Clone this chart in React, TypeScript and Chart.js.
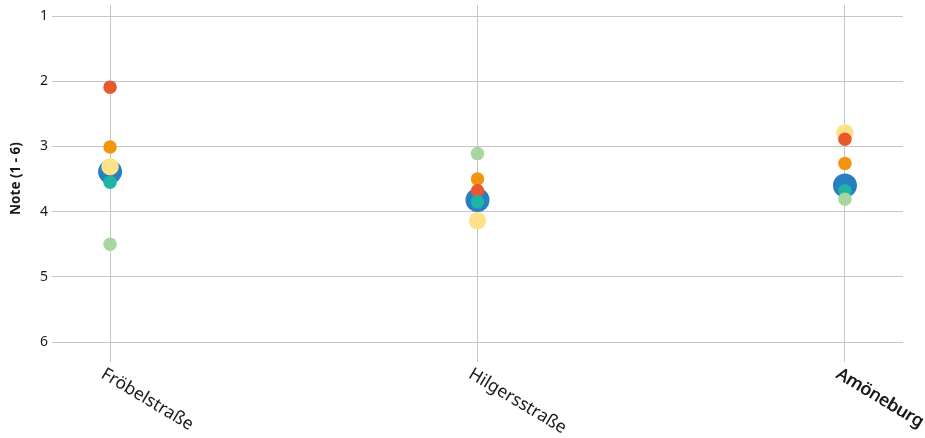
import React, { useEffect, useRef } from "react";
import { Chart, registerables } from "chart.js";

Chart.register(...registerables);

const categories = ["Fröbelstraße", "Hilgersstraße", "Amöneburg"];
const yTickValues = [1, 2, 3, 4, 5, 6];
const yAxisTitle = "Note (1 - 6)";

const seriesNames = ["Reihe 1", "Reihe 2", "Reihe 3", "Reihe 4", "Reihe 5", "Gesamt"];
const greenValues = [4.5, 3.11, 3.81];
const tealValues = [3.55, 3.85, 3.68];
const redValues = [2.09, 3.68, 2.89];
const orangeValues = [3.01, 3.5, 3.26];
const yellowValues = [3.31, 4.14, 2.79];
const blueValues = [3.39, 3.82, 3.6];

const seriesValues = [greenValues, tealValues, redValues, orangeValues, yellowValues, blueValues];
const seriesColors = ["#A8D5A0", "#1DB5A6", "#E8582C", "#F3940F", "#FEE28A", "#297EC2"];
const seriesRadii = [6.75, 6.75, 6.75, 6.75, 8.75, 12];

const FONT = '"Noto Sans", "Open Sans", sans-serif';

const labelPlugin = {
  id: "rotatedLabels",
  afterDraw(chart: any) {
    const ctx = chart.ctx as CanvasRenderingContext2D;
    const xs = chart.scales.x;
    const ys = chart.scales.y;
    ctx.save();
    ctx.fillStyle = "#1a1a1a";
    // y tick labels
    ctx.font = `14px ${FONT}`;
    ctx.textAlign = "right";
    ctx.textBaseline = "middle";
    yTickValues.forEach((v) => {
      ctx.fillText(String(v), ys.left + ys.width - 4, ys.getPixelForValue(v));
    });
    // x category labels
    ctx.font = `17.5px ${FONT}`;
    ctx.textAlign = "left";
    ctx.textBaseline = "alphabetic";
    categories.forEach((c, i) => {
      const px = xs.getPixelForValue(i);
      ctx.save();
      ctx.translate(px - 10, 377);
      ctx.rotate((31 * Math.PI) / 180);
      ctx.fillText(c, 0, 0);
      if (i === categories.length - 1) ctx.fillText(c, 0.7, 0);
      ctx.restore();
    });
    // y axis title
    ctx.save();
    ctx.translate(16, 178.5);
    ctx.rotate(-Math.PI / 2);
    ctx.font = `bold 13.5px ${FONT}`;
    ctx.textAlign = "center";
    ctx.textBaseline = "middle";
    ctx.fillText(yAxisTitle, 0, 0);
    ctx.restore();
    ctx.restore();
  },
};

export default function App() {
  const ref = useRef<HTMLCanvasElement | null>(null);
  useEffect(() => {
    if (!ref.current) return;
    const chart = new Chart(ref.current, {
      type: "scatter",
      data: {
        datasets: seriesValues.map((vals, si) => ({
          label: seriesNames[si],
          data: vals.map((v, i) => ({ x: i, y: v })),
          backgroundColor: seriesColors[si],
          borderColor: seriesColors[si],
          borderWidth: 0,
          pointRadius: seriesRadii[si],
          pointHoverRadius: seriesRadii[si],
          clip: false,
        })),
      },
      options: {
        responsive: false,
        animation: false,
        layout: { autoPadding: false, padding: { left: 0, right: 22, top: 5, bottom: 0 } },
        plugins: { legend: { display: false }, tooltip: { enabled: false } },
        scales: {
          x: {
            type: "linear",
            min: -0.158,
            max: 2.158,
            afterBuildTicks: (s: any) => {
              s.ticks = categories.map((_, i) => ({ value: i }));
            },
            afterFit: (s: any) => {
              s.height = 96;
            },
            ticks: { display: false },
            grid: { color: "#c6c6c6", lineWidth: 1, drawTicks: true, tickLength: 20 },
            border: { display: false },
          },
          y: {
            type: "linear",
            reverse: true,
            min: 0.83,
            max: 6,
            afterBuildTicks: (s: any) => {
              s.ticks = yTickValues.map((v) => ({ value: v }));
            },
            afterFit: (s: any) => {
              s.width = 52;
            },
            ticks: { display: false },
            grid: { color: "#c6c6c6", lineWidth: 1, drawTicks: false },
            border: { display: false },
          },
        },
      },
      plugins: [labelPlugin],
    });
    return () => chart.destroy();
  }, []);
  return (
    <div style={{ position: "fixed", left: 0, top: 0, width: 925, height: 438, background: "#fff" }}>
      <canvas ref={ref} width={925} height={438} style={{ display: "block" }} />
    </div>
  );
}
